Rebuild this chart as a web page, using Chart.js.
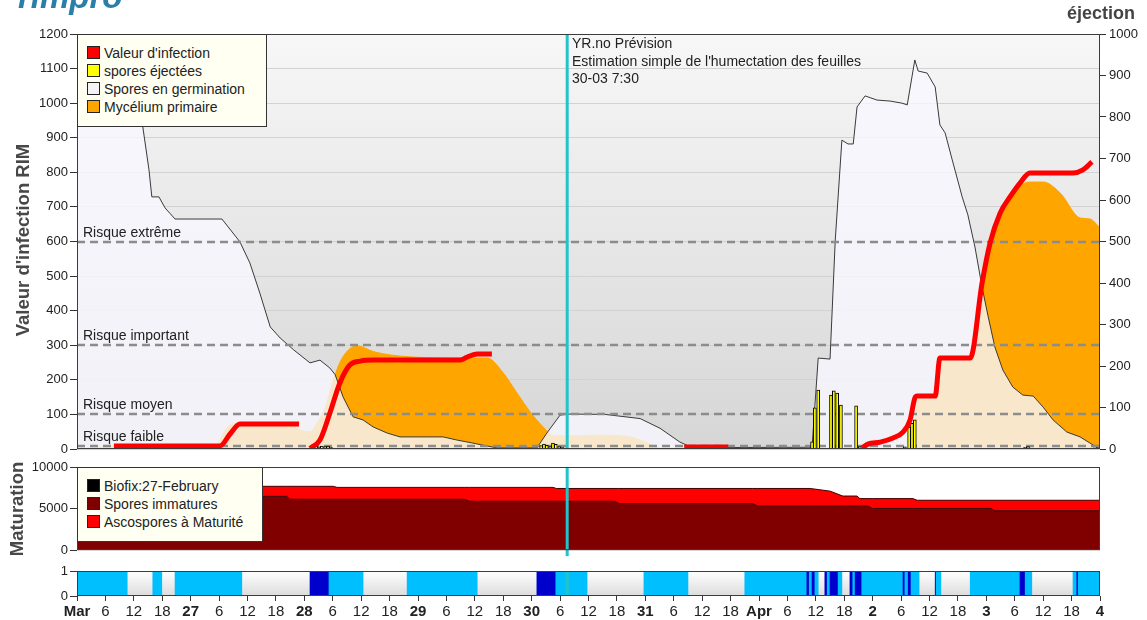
<!DOCTYPE html>
<html lang="fr">
<head>
<meta charset="UTF-8">
<title>RIMpro - Valeur d'infection</title>
<script src="https://cdn.jsdelivr.net/npm/chart.js"></script>
<style>
  body { margin: 0; background: #fff; font-family: "Liberation Sans", Arial, sans-serif; color: #222; }
  .page { position: relative; width: 1147px; height: 620px; overflow: hidden; }
  canvas { position: absolute; left: 0; }
  #main { top: 0; }
  #mat { top: 455px; }
  #wet { top: 560px; }
  .logo { position: absolute; left: 18px; top: -20px; font: italic bold 33px/33px "Liberation Sans", Arial, sans-serif; color: #2b7ea9; }
  .ejec { position: absolute; right: 12px; top: 4px; font: bold 18px/18px "Liberation Sans", Arial, sans-serif; color: #444; }
  .ytitle { position: absolute; font-weight: bold; color: #484848; white-space: nowrap; transform: translate(-50%, -50%) rotate(-90deg); }
  .legend { position: absolute; background: #fffff2; border: 1px solid #333; font-size: 14px; box-sizing: border-box; padding: 9px 0 0 9px; }
  .legend div { height: 18px; line-height: 18px; white-space: nowrap; }
  .legend span { display: inline-block; width: 11px; height: 11px; border: 1px solid #222; margin-right: 4px; vertical-align: -1px; }
  .forecast { position: absolute; left: 572px; top: 35px; font-size: 14px; line-height: 17.5px; color: #222; }
</style>
</head>
<body>
<div class="page">
  <canvas id="main" width="1147" height="460"></canvas>
  <canvas id="mat" width="1147" height="105"></canvas>
  <canvas id="wet" width="1147" height="60"></canvas>

  <div class="logo">rimpro</div>
  <div class="ejec">éjection</div>
  <div class="ytitle" style="left:23px; top:240px; font-size:18.5px;">Valeur d'infection RIM</div>
  <div class="ytitle" style="left:17px; top:509px; font-size:18.5px;">Maturation</div>

  <div class="legend" style="left:77px; top:34px; width:190px; height:93px;">
    <div><span style="background:#ff0000"></span>Valeur d'infection</div>
    <div><span style="background:#ffff00"></span>spores éjectées</div>
    <div><span style="background:#f4f4f4"></span>Spores en germination</div>
    <div><span style="background:#ffa500"></span>Mycélium primaire</div>
  </div>
  <div class="legend" style="left:77px; top:467px; width:186px; height:75px;">
    <div><span style="background:#000"></span>Biofix:27-February</div>
    <div><span style="background:#800000"></span>Spores immatures</div>
    <div><span style="background:#ff0000"></span>Ascospores à Maturité</div>
  </div>

  <div class="forecast">YR.no Prévision<br>Estimation simple de l'humectation des feuilles<br>30-03 7:30</div>
</div>

<script>
// x values are hours since 26 March 0:00 (216 h = 4 April 0:00)
const dayLabels = ['Mar', '27', '28', '29', '30', '31', 'Apr', '2', '3', '4'];
const forecastHour = 103.5;

// spores en germination (left axis)
const germHours = [0, 12.9, 13.7, 15.2, 15.8, 17.3, 18.6, 20.7, 30.6, 34.4, 36.5, 38.6, 40.8, 42.9, 45.8, 49.2, 51.3, 53.4, 54.5, 56.2,
  58.3, 60.4, 62.5, 65.5, 68.2, 77.3, 80.2, 83.6, 88.7, 97.1, 99.2, 102.0, 104.1, 111.5, 118.9, 123.1, 127.3, 129.9, 155.2, 156.5,
  159.0, 160.1, 161.5, 162.8, 163.9, 164.7, 166.4, 168.9, 171.7, 174.2, 175.3, 176.9, 177.6, 179.5, 181.2, 182.2, 183.3, 184.8, 186.9, 188.1,
  189.6, 191.1, 192.4, 193.8, 195.5, 197.6, 199.7, 201.9, 204.0, 206.1, 209.0, 211.8, 213.9, 215.6, 216];
const germValues = [1300, 1210, 950, 807, 729, 729, 697, 665, 665, 599, 538, 451, 353, 321, 286, 249, 257, 234, 215, 150,
  93, 84, 64, 46, 35, 35, 26, 17, 3, 3, 46, 98, 101, 100, 88, 60, 20, 4, 5, 263,
  260, 604, 893, 882, 882, 989, 1021, 1009, 1006, 1000, 995, 1125, 1093, 1087, 1047, 937, 914, 836, 729, 677,
  584, 468, 382, 295, 228, 179, 156, 153, 121, 84, 49, 35, 17, 3, 0];

// mycélium primaire (left axis)
const mycHours = [0, 7.8, 29.1, 31.9, 34.4, 45.0, 47.1, 49.2, 50.9, 52.4, 53.8, 55.5, 57.6, 59.3, 62.5, 66.1, 70.9, 80.9, 86.6, 90.0,
  92.9, 95.7, 98.4, 100.3, 102.0, 110.4, 116.8, 121.0, 124.2, 175.5, 176.3, 176.9, 177.6, 181.2, 182.2, 188.6, 189.6, 191.1, 192.8, 194.9,
  197.6, 201.2, 204.0, 207.6, 211.8, 213.9, 216];
const mycValues = [0, 8, 10, 65, 75, 70, 55, 50, 80, 120, 185, 250, 290, 298, 282, 272, 266, 263, 263, 220,
  162, 107, 64, 40, 38, 40, 35, 15, 0, 0, 40, 80, 145, 148, 255, 258, 330, 460, 570, 670,
  740, 772, 772, 740, 668, 665, 639];

// valeur d'infection (left axis), null separates the infection periods
const infHours = [7.8, 30.2, 32.4, 34.4, 46.9, 48.0, 49.2, 51.3, 53.4, 55.5, 57.6, 59.8, 62.5, 80.9, 82.4, 84.5, 87.6, 100.0, 128.2, 137.5,
  150.0, 165.8, 167.0, 169.6, 172.3, 174.4, 175.9, 176.9, 177.4, 181.2, 182.2, 188.6, 191.1, 192.8, 194.9, 197.0, 199.1, 201.2, 210.3, 212.4, 214.3];
const infValues = [9, 9, 45, 72, 72, null, 2, 26, 104, 191, 243, 254, 257, 257, 266, 275, 275, null, 6, 6,
  null, 3, 14, 20, 32, 49, 84, 147, 153, 153, 263, 263, 480, 596, 682, 729, 769, 798, 798, 807, 830];

// spores éjectées (right axis)
const ejectHours = [49.8, 50.5, 51.1, 51.7, 52.4, 53.0, 53.6, 98.0, 98.6, 99.2, 99.9, 100.5, 101.1, 101.8, 102.4,
  155.2, 155.8, 156.5, 159.2, 159.8, 160.5, 161.3, 164.5, 165.3, 174.8, 175.7, 176.3, 176.9, 200.2, 200.8, 214.9, 215.6];
const ejectValues = [4, 7, 5, 7, 6, 7, 4, 8, 12, 9, 6, 14, 11, 6, 4,
  17, 99, 142, 130, 140, 135, 106, 104, 6, 5, 53, 62, 70, 4, 6, 3, 4];

const riskLevels = [10, 100, 300, 600];
const riskLabels = ['Risque faible', 'Risque moyen', 'Risque important', 'Risque extrême'];

// maturation
const matHours = [0, 44.3, 45.0, 54.1, 54.9, 81.9, 82.8, 100.5, 101.2, 113.6, 114.4, 142.7, 143.6, 154.8, 159.0, 161.7, 164.7, 165.3,
  167.0, 167.9, 176.5, 177.4, 193.0, 193.8, 216];
const immatureValues = [6470, 6470, 6120, 6120, 6120, 6120, 5880, 5880, 5880, 5880, 5610, 5610, 5330, 5330, 5330, 5330, 5330, 5330,
  5330, 5020, 5020, 5020, 5020, 4740, 4740];
const matureValues = [1210, 1210, 1560, 1560, 1430, 1430, 1670, 1670, 1540, 1540, 1810, 1810, 2090, 2090, 1770, 1180, 1180, 870,
  870, 1180, 1180, 980, 980, 1260, 1260];

// humectation: 1 = feuilles humides, 2 = pluie
const wetStart = [0, 16.0, 20.7, 49.2, 53.2, 69.7, 97.1, 101.1, 119.7, 141.0, 154.1, 154.6, 155.2, 155.8, 157.9, 158.4, 159.0,
  160.7, 163.2, 163.8, 164.3, 165.7, 174.4, 174.8, 175.5, 176.1, 181.2, 181.4, 188.6, 199.1, 200.2, 210.3, 211.1, 211.4];
const wetEnd = [10.6, 17.9, 34.8, 53.2, 60.4, 84.5, 101.1, 107.7, 129.0, 154.1, 154.6, 155.2, 155.8, 156.5, 158.4, 159.0, 160.7,
  161.5, 163.8, 164.3, 165.7, 174.4, 174.8, 175.5, 176.1, 177.8, 181.4, 182.4, 199.1, 200.2, 201.6, 211.1, 211.4, 216];
const wetType = [1, 1, 1, 2, 1, 1, 2, 1, 1, 1, 2, 1, 2, 1, 2, 1, 2,
  1, 2, 1, 2, 1, 2, 1, 2, 1, 2, 1, 1, 2, 1, 1, 2, 1];
const wetColors = { 1: '#00bfff', 2: '#0000cd' };

Chart.defaults.font.family = '"Liberation Sans", Arial, sans-serif';
Chart.defaults.color = '#222';

const pts = (xs, ys) => xs.map((x, i) => ({ x: x, y: ys[i] }));
const plain = v => String(v);

const panelPlugin = {
  id: 'panel',
  beforeDraw(chart, args, o) {
    const { ctx, chartArea: a } = chart;
    const g = ctx.createLinearGradient(0, a.top, 0, a.bottom);
    g.addColorStop(0, o.top);
    g.addColorStop(1, o.bottom);
    ctx.save();
    ctx.fillStyle = g;
    ctx.fillRect(a.left, a.top, a.right - a.left, a.bottom - a.top);
    ctx.restore();
  },
  afterDatasetDraw(chart, args, o) {
    if (o.riskAfter !== args.index) return;
    const { ctx, chartArea: a } = chart;
    const y = chart.scales.y;
    ctx.save();
    ctx.strokeStyle = '#8c8c8c';
    ctx.lineWidth = 2.5;
    ctx.setLineDash([8, 5]);
    ctx.font = '14px "Liberation Sans", Arial, sans-serif';
    ctx.fillStyle = '#222';
    riskLevels.forEach((v, i) => {
      const py = Math.round(y.getPixelForValue(v));
      ctx.beginPath();
      ctx.moveTo(a.left, py);
      ctx.lineTo(a.right, py);
      ctx.stroke();
      ctx.fillText(riskLabels[i], a.left + 6, py - 5);
    });
    ctx.restore();
  },
  afterDraw(chart, args, o) {
    const { ctx, chartArea: a } = chart;
    const fx = chart.scales.x.getPixelForValue(forecastHour);
    ctx.save();
    ctx.strokeStyle = '#22c4cc';
    ctx.lineWidth = 3;
    ctx.beginPath();
    ctx.moveTo(fx, a.top);
    ctx.lineTo(fx, a.bottom + (o.extend || 0));
    ctx.stroke();
    ctx.strokeStyle = '#3c3c3c';
    ctx.lineWidth = 1;
    ctx.strokeRect(a.left + 0.5, a.top + 0.5, a.right - a.left - 1, a.bottom - a.top - 1);
    ctx.restore();
  }
};

const hourAxis = () => ({
  type: 'linear', min: 0, max: 216, offset: false,
  grid: { display: false, offset: false },
  ticks: { stepSize: 6 }
});
const leftTicks = { font: { size: 13 }, color: '#222', padding: 2, callback: plain };
const common = { responsive: false, animation: false, events: [] };

// ---- main panel ----
new Chart(document.getElementById('main'), {
  type: 'line',
  data: {
    datasets: [
      { label: "Valeur d'infection", data: pts(infHours, infValues), borderColor: '#ff0000', borderWidth: 5,
        pointRadius: 0, cubicInterpolationMode: 'monotone', spanGaps: false, fill: false, order: 0 },
      { type: 'bar', label: 'spores éjectées', data: pts(ejectHours, ejectValues), yAxisID: 'y1',
        backgroundColor: '#ffff00', borderColor: '#000', borderWidth: 1, barThickness: 3, order: 1 },
      { label: 'Spores en germination', data: pts(germHours, germValues), borderColor: '#3a3a3a', borderWidth: 1,
        backgroundColor: 'rgba(248,248,255,0.8)', fill: 'origin', pointRadius: 0, tension: 0, order: 2 },
      { label: 'Mycélium primaire', data: pts(mycHours, mycValues), borderColor: '#ffa500', borderWidth: 1,
        backgroundColor: '#ffa500', fill: 'origin', pointRadius: 0, cubicInterpolationMode: 'monotone', order: 3 }
    ]
  },
  options: {
    ...common,
    layout: { padding: { top: 34, bottom: 11, left: 0, right: 0 } },
    plugins: { legend: { display: false }, tooltip: { enabled: false },
      panel: { top: '#f7f7f7', bottom: '#d6d6d6', riskAfter: 2 } },
    scales: {
      x: { ...hourAxis(), display: false },
      y: { min: 0, max: 1200, ticks: { ...leftTicks, stepSize: 100 },
        grid: { color: '#d2d2d2', tickLength: 7, tickColor: '#333' }, border: { display: false },
        afterFit: s => { s.width = 77; } },
      y1: { position: 'right', min: 0, max: 1000,
        ticks: { font: { size: 13 }, color: '#222', padding: 3, stepSize: 100, callback: plain },
        grid: { drawOnChartArea: false, tickLength: 6, tickColor: '#333' }, border: { display: false },
        afterFit: s => { s.width = 47; } }
    }
  },
  plugins: [panelPlugin]
});

// ---- maturation ----
new Chart(document.getElementById('mat'), {
  type: 'line',
  data: {
    datasets: [
      { label: 'Spores immatures', data: pts(matHours, immatureValues), backgroundColor: '#800000',
        borderColor: '#3a0000', borderWidth: 1, fill: 'origin', pointRadius: 0, tension: 0 },
      { label: 'Ascospores à Maturité', data: pts(matHours, matureValues), backgroundColor: '#ff0000',
        borderColor: '#400000', borderWidth: 1, fill: '-1', pointRadius: 0, tension: 0 }
    ]
  },
  options: {
    ...common,
    layout: { padding: { top: 12, bottom: 8, left: 0, right: 47 } },
    plugins: { legend: { display: false }, tooltip: { enabled: false },
      panel: { top: '#ffffff', bottom: '#ffffff', extend: 6 } },
    scales: {
      x: { ...hourAxis(), display: false },
      y: { stacked: true, min: 0, max: 10000, ticks: { ...leftTicks, stepSize: 5000 },
        grid: { drawOnChartArea: false, tickLength: 7, tickColor: '#333' }, border: { display: false },
        afterFit: s => { s.width = 77; } }
    }
  },
  plugins: [panelPlugin]
});

// ---- humectation ----
new Chart(document.getElementById('wet'), {
  type: 'bar',
  data: {
    datasets: [{
      label: 'Humectation',
      data: wetStart.map((s, i) => ({ x: [s, wetEnd[i]], y: 0.5 })),
      backgroundColor: c => wetColors[wetType[c.dataIndex]],
      borderWidth: 0, barThickness: 25, grouped: false
    }]
  },
  options: {
    ...common,
    indexAxis: 'y',
    layout: { padding: { top: 11, bottom: 0, left: 0, right: 47 } },
    plugins: { legend: { display: false }, tooltip: { enabled: false },
      panel: { top: '#ffffff', bottom: '#dcdcdc' } },
    scales: {
      x: { ...hourAxis(), position: 'bottom',
        grid: { display: true, drawOnChartArea: false, offset: false, tickLength: 5, tickColor: '#333' },
        border: { display: false },
        ticks: {
          stepSize: 6, autoSkip: false, maxRotation: 0, padding: 2, color: '#222',
          callback: v => (v % 24 === 0 ? dayLabels[v / 24] : String(v % 24)),
          font: c => ({ size: 15, weight: c.tick && c.tick.value % 24 === 0 ? 'bold' : 'normal' })
        },
        afterFit: s => { s.height = 24; } },
      y: { type: 'linear', min: 0, max: 1, offset: false, ticks: { ...leftTicks, stepSize: 1 },
        grid: { drawOnChartArea: false, offset: false, tickLength: 7, tickColor: '#333' }, border: { display: false },
        afterFit: s => { s.width = 77; } }
    }
  },
  plugins: [panelPlugin]
});
</script>
</body>
</html>
